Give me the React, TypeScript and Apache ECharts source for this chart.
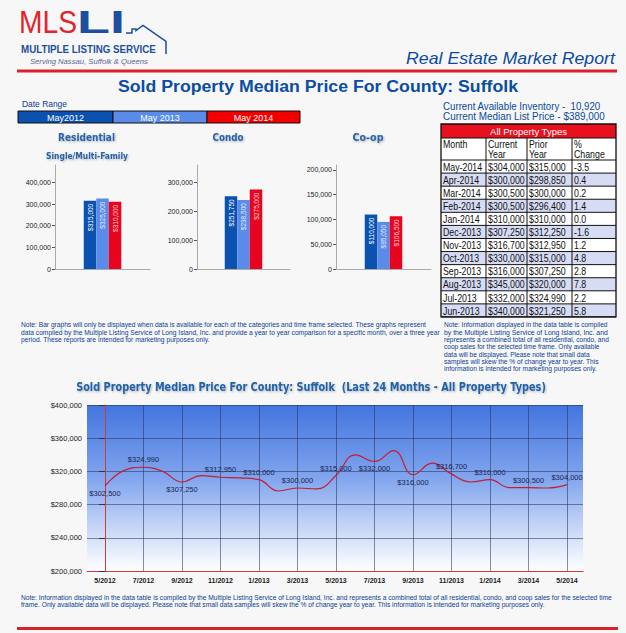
import React, { useEffect, useRef } from 'react';
import * as echarts from 'echarts';

const periods = ['May2012', 'May 2013', 'May 2014'];
const residential = [315000, 325000, 310000];
const condo = [251750, 238500, 275000];
const coop = [110000, 95050, 106500];
const residentialTicks = [0, 100000, 200000, 300000, 400000];
const condoTicks = [0, 100000, 200000, 300000];
const coopTicks = [0, 50000, 100000, 150000, 200000];

const tableMonths = ['May-2014', 'Apr-2014', 'Mar-2014', 'Feb-2014', 'Jan-2014', 'Dec-2013', 'Nov-2013', 'Oct-2013', 'Sep-2013', 'Aug-2013', 'Jul-2013', 'Jun-2013'];
const tableCurrent = ['$304,000', '$300,000', '$300,500', '$300,500', '$310,000', '$307,250', '$316,700', '$330,000', '$316,000', '$345,000', '$332,000', '$340,000'];
const tablePrior = ['$315,000', '$298,850', '$300,000', '$296,400', '$310,000', '$312,250', '$312,950', '$315,000', '$307,250', '$320,000', '$324,990', '$321,250'];
const tableChange = ['-3.5', '0.4', '0.2', '1.4', '0.0', '-1.6', '1.2', '4.8', '2.8', '7.8', '2.2', '5.8'];

const lineMonths = ['5/2012', '6/2012', '7/2012', '8/2012', '9/2012', '10/2012', '11/2012', '12/2012', '1/2013', '2/2013', '3/2013', '4/2013', '5/2013', '6/2013', '7/2013', '8/2013', '9/2013', '10/2013', '11/2013', '12/2013', '1/2014', '2/2014', '3/2014', '4/2014', '5/2014'];
const lineValues = [302500, 321250, 324990, 320000, 307250, 315000, 312950, 312250, 310000, 296400, 300000, 298850, 315000, 340000, 332000, 345000, 316000, 330000, 316700, 307250, 310000, 300500, 300500, 300000, 304000];
const lineTickMonths = [0, 2, 4, 6, 8, 10, 12, 14, 16, 18, 20, 22, 24];

const leftNote = [
  'Note: Bar graphs will only be displayed when data is available for each of the categories and time frame selected. These graphs represent',
  'data compiled by the Multiple Listing Service of Long Island, Inc. and provide a year to year comparison for a specific month, over a three year',
  'period. These reports are intended for marketing purposes only.',
];
const rightNote = [
  'Note: Information displayed in the data table is compiled',
  'by the Multiple Listing Service of Long Island, Inc. and',
  'represents a combined total of all residential, condo, and',
  'coop sales for the selected time frame. Only available',
  'data will be displayed. Please note that small data',
  'samples will skew the % of change year to year. This',
  'information is intended for marketing purposes only.',
];
const bottomNote = [
  'Note: Information displayed in the data table is compiled by the Multiple Listing Service of Long Island, Inc. and represents a combined total of all residential, condo, and coop sales for the selected time',
  'frame. Only available data will be displayed. Please note that small data samples will skew the % of change year to year. This information is intended for marketing purposes only.',
];

const ARIAL = '"Liberation Sans", Arial, sans-serif';
const TAHOMA = '"DejaVu Sans", Verdana, sans-serif';

const fmt = (v: number) => v.toLocaleString('en-US');

let ctx: CanvasRenderingContext2D | null = null;
function measure(text: string, size: number, weight: string, style: string, family: string) {
  if (!ctx) ctx = document.createElement('canvas').getContext('2d');
  if (!ctx) return 1;
  ctx.font = `${style} ${weight} ${size}px ${family}`;
  return ctx.measureText(text).width || 1;
}

function txt(text: string, x: number, y: number, o: any = {}) {
  const size = o.size ?? 10;
  const weight = o.weight ?? 'normal';
  const fstyle = o.style ?? 'normal';
  const family = o.family ?? ARIAL;
  let scaleX = 1;
  if (o.width) scaleX = o.width / measure(text, size, weight, fstyle, family);
  const st: any = {
    text,
    fill: o.color ?? '#000',
    fontSize: size,
    fontWeight: weight,
    fontStyle: fstyle,
    fontFamily: family,
    align: o.align ?? 'left',
    verticalAlign: o.vAlign ?? 'middle',
  };
  if (o.shadow) {
    st.textShadowColor = 'rgba(0,0,0,0.28)';
    st.textShadowBlur = 2;
    st.textShadowOffsetX = 1;
    st.textShadowOffsetY = 1;
  }
  return { type: 'text', x, y, scaleX, silent: true, style: st };
}

function buildGraphics() {
  const g: any[] = [];
  // Logo
  g.push(txt('MLS', 19, 22, { size: 31, color: '#e2252d', width: 58 }));
  g.push(txt('LI', 77, 22, { size: 31, weight: 'bold', color: '#1d4f9e', width: 48, align: 'left', family: ARIAL }));
  g.push({
    type: 'polyline',
    silent: true,
    shape: { points: [[126, 33], [132, 33], [132, 29], [136, 29], [136, 30.5], [143, 25.5], [166, 41.5], [166, 54]] },
    style: { stroke: '#1d4f9e', lineWidth: 1.5, fill: 'none' },
  });
  g.push(txt('MULTIPLE LISTING SERVICE', 21, 49, { size: 11, weight: 'bold', color: '#1d4f9e', width: 135 }));
  g.push(txt('Serving Nassau, Suffolk & Queens', 30, 62, { size: 7, style: 'italic', color: '#5a6890', width: 118 }));
  g.push({ type: 'rect', silent: true, shape: { x: 17, y: 69.5, width: 600, height: 3 }, style: { fill: '#d9232b' } });
  g.push(txt('Real Estate Market Report', 406, 59, { size: 16, style: 'italic', color: '#0b4aa0', width: 209 }));
  g.push(txt('Sold Property Median Price For County: Suffolk', 318, 86, { size: 17, weight: 'bold', color: '#0c4da2', width: 400, align: 'center' }));

  // Date range legend
  g.push(txt('Date Range', 22, 104, { size: 9, color: '#0b3d91', width: 45 }));
  const legColors = ['#0a51b0', '#5a8be8', '#f20000'];
  const legX = [18, 113, 207, 300];
  for (let i = 0; i < 3; i++) {
    g.push({ type: 'rect', silent: true, shape: { x: legX[i], y: 111, width: legX[i + 1] - legX[i], height: 12 }, style: { fill: legColors[i], stroke: '#111', lineWidth: 1 } });
    g.push(txt(periods[i], (legX[i] + legX[i + 1]) / 2, 117.5, { size: 9, color: '#ffffff', align: 'center' }));
  }

  // Bar chart titles
  g.push(txt('Residential', 86.5, 137, { size: 11, weight: 'bold', family: TAHOMA, color: '#2a62a8', width: 57, align: 'center', shadow: true }));
  g.push(txt('Single/Multi-Family', 87, 156, { size: 8.5, weight: 'bold', family: TAHOMA, color: '#2a62a8', width: 82, align: 'center', shadow: true }));
  g.push(txt('Condo', 228, 137, { size: 11, weight: 'bold', family: TAHOMA, color: '#2a62a8', width: 31, align: 'center', shadow: true }));
  g.push(txt('Co-op', 368, 137, { size: 11, weight: 'bold', family: TAHOMA, color: '#2a62a8', width: 31, align: 'center', shadow: true }));

  // Inventory
  g.push(txt('Current Available Inventory -  10,920', 443, 106, { size: 10, color: '#0b4aa0', width: 158 }));
  g.push(txt('Current Median List Price - $389,000', 443, 116, { size: 10, color: '#0b4aa0', width: 162 }));

  // Table
  const cx = [441, 486, 527, 572, 616];
  const top = 124, hdrBottom = 138, colBottom = 160, rowH = 13.08;
  const tBottom = colBottom + rowH * tableMonths.length;
  g.push({ type: 'rect', silent: true, shape: { x: cx[0], y: top, width: cx[4] - cx[0], height: hdrBottom - top }, style: { fill: '#e8101e' } });
  g.push(txt('All Property Types', (cx[0] + cx[4]) / 2, 131, { size: 9.5, color: '#ffffff', align: 'center' }));
  g.push({ type: 'rect', silent: true, shape: { x: cx[0], y: hdrBottom, width: cx[4] - cx[0], height: tBottom - hdrBottom }, style: { fill: '#ffffff' } });
  for (let i = 0; i < tableMonths.length; i++) {
    const y0 = colBottom + i * rowH;
    if (i % 2 === 1) {
      g.push({ type: 'rect', silent: true, shape: { x: cx[0], y: y0, width: cx[4] - cx[0], height: rowH }, style: { fill: '#d7dcf5' } });
    }
  }
  const headers = [['Month'], ['Current', 'Year'], ['Prior', 'Year'], ['%', 'Change']];
  headers.forEach((h, c) => {
    h.forEach((line, k) => {
      g.push({ ...txt(line, cx[c] + 2, 144.5 + k * 9.5, { size: 10, color: '#111' }), scaleX: 0.88 });
    });
  });
  const cols = [tableMonths, tableCurrent, tablePrior, tableChange];
  for (let i = 0; i < tableMonths.length; i++) {
    const yc = colBottom + i * rowH + rowH / 2 + 0.5;
    cols.forEach((col, c) => {
      g.push({ ...txt(col[i], cx[c] + 2, yc, { size: 10, color: '#111' }), scaleX: 0.88 });
    });
  }
  const lineStyle = { stroke: '#111', lineWidth: 1 };
  for (let i = 0; i <= tableMonths.length; i++) {
    const y = colBottom + i * rowH;
    g.push({ type: 'line', silent: true, shape: { x1: cx[0], y1: y, x2: cx[4], y2: y }, style: lineStyle });
  }
  g.push({ type: 'line', silent: true, shape: { x1: cx[0], y1: hdrBottom, x2: cx[4], y2: hdrBottom }, style: lineStyle });
  for (let c = 1; c < 4; c++) {
    g.push({ type: 'line', silent: true, shape: { x1: cx[c], y1: hdrBottom, x2: cx[c], y2: tBottom }, style: lineStyle });
  }
  g.push({ type: 'rect', silent: true, shape: { x: cx[0], y: top, width: cx[4] - cx[0], height: tBottom - top }, style: { fill: 'none', stroke: '#111', lineWidth: 1.3 } });

  // Notes
  const noteColor = '#0b3d91';
  const leftW = [406, 419, 189];
  leftNote.forEach((l, i) => g.push(txt(l, 21, 325 + i * 7.5, { size: 6.5, color: noteColor, width: leftW[i] })));
  const rightW = [164, 164, 165, 156, 146, 155, 153];
  rightNote.forEach((l, i) => g.push(txt(l, 444, 325 + i * 7.3, { size: 6.5, color: noteColor, width: rightW[i] })));
  const botW = [591, 524];
  bottomNote.forEach((l, i) => g.push(txt(l, 21, 598 + i * 7, { size: 6.5, color: noteColor, width: botW[i] })));

  // Line chart title
  g.push(txt('Sold Property Median Price For County: Suffolk  (Last 24 Months - All Property Types)', 311, 387, { size: 12, weight: 'bold', family: TAHOMA, color: '#2262aa', width: 470, align: 'center', shadow: true }));

  // bottom red line
  g.push({ type: 'rect', silent: true, shape: { x: 17, y: 627, width: 601, height: 3 }, style: { fill: '#d9232b' } });
  return g;
}

const barColors = ['#0a51b0', '#5a8be8', '#e8041e'];
const barLabelColors = ['#ffffff', '#e6edff', '#ffd6d6'];

function buildOption() {
  const barSets = [residential, condo, coop];
  const barTicks = [residentialTicks, condoTicks, coopTicks];
  const barMax = [480000, 360000, 210000];
  const grids: any[] = [
    { left: 55, top: 165, width: 95, height: 104 },
    { left: 197, top: 165, width: 93, height: 104 },
    { left: 336, top: 165, width: 95, height: 104 },
    {
      left: 87, top: 405, width: 496, height: 166, show: true, borderWidth: 0,
      backgroundColor: new echarts.graphic.LinearGradient(0, 0, 0, 1, [
        { offset: 0, color: '#4275de' },
        { offset: 0.45, color: '#83a6ee' },
        { offset: 0.8, color: '#d4e0f8' },
        { offset: 1, color: '#ffffff' },
      ]),
    },
  ];
  const xAxes: any[] = [];
  const yAxes: any[] = [];
  const series: any[] = [];
  for (let k = 0; k < 3; k++) {
    xAxes.push({
      type: 'category', gridIndex: k, data: [''],
      axisLine: { lineStyle: { color: '#aaaaaa' } }, axisTick: { show: false }, axisLabel: { show: false },
    });
    yAxes.push({
      type: 'value', gridIndex: k, min: 0, max: barMax[k],
      axisLine: { show: true, lineStyle: { color: '#aaaaaa' } },
      axisTick: { show: true, length: 3, customValues: barTicks[k], lineStyle: { color: '#555' } },
      axisLabel: { customValues: barTicks[k], fontSize: 7, color: '#222', fontFamily: ARIAL, margin: 4, formatter: (v: number) => fmt(v) },
      splitLine: { show: false },
    });
    for (let p = 0; p < 3; p++) {
      series.push({
        type: 'bar', name: periods[p], xAxisIndex: k, yAxisIndex: k,
        data: [barSets[k][p]], barWidth: 12.5, barGap: '0%',
        itemStyle: { color: barColors[p] },
        label: {
          show: true, rotate: 90, position: 'insideTop', align: 'right', verticalAlign: 'middle', distance: 3,
          fontSize: 6.5, fontFamily: ARIAL, color: barLabelColors[p],
          formatter: (pp: any) => '$' + fmt(pp.value),
        },
      });
    }
  }
  xAxes.push({
    type: 'value', gridIndex: 3, min: -0.935, max: 24.83,
    axisLine: { show: true, lineStyle: { color: '#d23a3a', width: 1 } },
    axisTick: { show: false, customValues: lineTickMonths },
    axisLabel: { customValues: lineTickMonths, fontSize: 7, fontWeight: 'bold', color: '#222', fontFamily: ARIAL, margin: 6, formatter: (v: number) => lineMonths[Math.round(v)] ?? '' },
    splitLine: { show: true, lineStyle: { color: 'rgba(40,50,90,0.55)', width: 1 } },
  });
  yAxes.push({
    type: 'value', gridIndex: 3, min: 200000, max: 400000, interval: 40000,
    axisLine: { show: true, lineStyle: { color: '#d23a3a', width: 1 } },
    axisTick: { show: true, length: 6, lineStyle: { color: '#333' } },
    axisLabel: { fontSize: 7.5, color: '#222', fontFamily: ARIAL, margin: 5, formatter: (v: number) => '$' + fmt(v) },
    splitLine: { show: true, lineStyle: { color: 'rgba(40,50,90,0.55)', width: 1 } },
  });
  const bottomIdx = [0, 4, 14, 16];
  series.push({
    type: 'line', xAxisIndex: 3, yAxisIndex: 3, smooth: 0.45,
    symbol: 'circle', symbolSize: 1, showSymbol: true,
    itemStyle: { color: 'rgba(0,0,0,0)' },
    lineStyle: { color: '#c41e34', width: 1.2 },
    label: { show: false },
    data: lineValues.map((v, i) => ({
      value: [i, v],
      label: {
        show: i % 2 === 0,
        position: bottomIdx.includes(i) ? 'bottom' : 'top',
        distance: 3,
        fontSize: 7.5, fontFamily: ARIAL, color: '#1a2550',
        formatter: '$' + fmt(v),
      },
    })),
  });
  return {
    animation: false,
    backgroundColor: '#f7f7f7',
    grid: grids,
    xAxis: xAxes,
    yAxis: yAxes,
    series,
    graphic: buildGraphics(),
  };
}

export default function App() {
  const ref = useRef<HTMLDivElement>(null);
  useEffect(() => {
    document.body.style.margin = '0';
    const chart = echarts.init(ref.current!, null, { renderer: 'svg' });
    chart.setOption(buildOption() as any);
    return () => chart.dispose();
  }, []);
  return <div ref={ref} style={{ width: 626, height: 633 }} />;
}
